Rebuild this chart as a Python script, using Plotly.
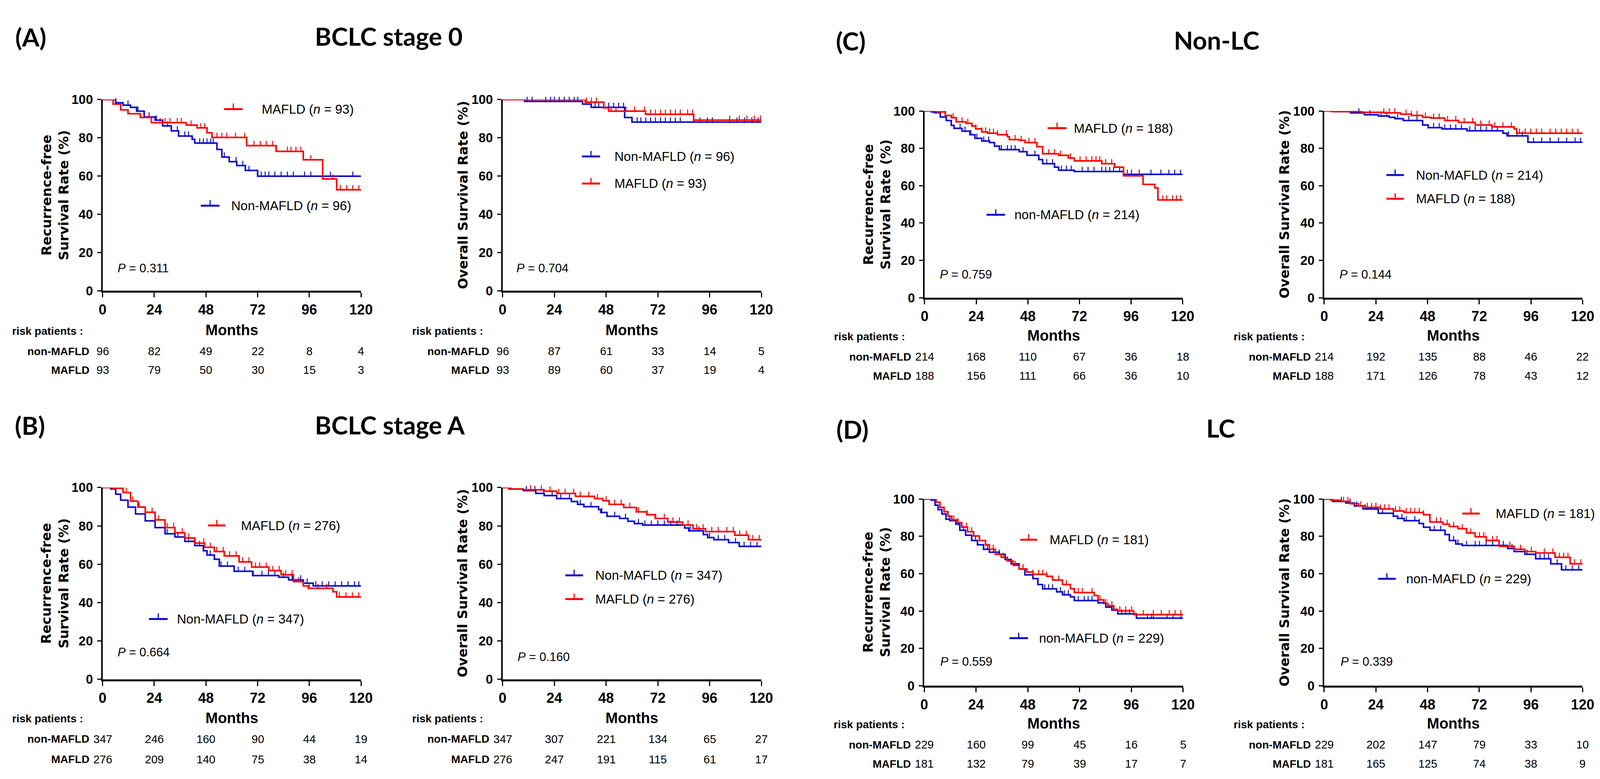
import numpy as np
import plotly.graph_objects as go

W, H = 4124, 1994
RED = "#FF0000"
BLUE = "#0C0CCC"
ARIAL = "Liberation Sans, Arial, sans-serif"
WIDEF = "DejaVu Sans, Liberation Sans, sans-serif"
TITLEF = "Lato, Open Sans, sans-serif"

MONTH_TICKS = [0, 24, 48, 72, 96, 120]
PCT_TICKS = [0, 20, 40, 60, 80, 100]
END_MONTH = 120

# ---------------- (A) BCLC stage 0 : RFS ----------------
A_RFS_MAFLD_T = [0, 4.9, 8.4, 11.8, 17.5, 22.7, 38.8, 43.9, 48.5, 50.8, 66.9, 80.6, 93.2, 102.2, 108.7]
A_RFS_MAFLD_S = [100, 97.6, 94.6, 92.6, 90.6, 87.9, 86.6, 85.2, 82.6, 80.2, 75.9, 72.9, 68.5, 58.5, 52.8]
A_RFS_MAFLD_C = [21.6, 26.7, 29.0, 31.3, 34.7, 36.5, 41.1, 45.6, 47.4, 53.1, 55.4, 57.7, 61.7, 66.0, 70.3,
                 73.2, 76.0, 78.9, 85.8, 87.5, 89.8, 92.1, 96.7, 107.0, 110.4, 113.3, 116.2, 119.0]
A_RFS_NON_T = [0, 6.1, 9.5, 13.0, 15.8, 19.3, 24.4, 27.9, 31.9, 35.3, 41.6, 42.8, 53.1, 55.4, 58.8, 62.3, 66.3, 72.0]
A_RFS_NON_S = [100, 98.3, 97.0, 95.9, 93.9, 90.9, 89.2, 86.2, 83.6, 80.9, 79.2, 77.2, 73.9, 69.9, 67.5, 65.5, 62.9, 59.9]
A_RFS_NON_C = [6.1, 11.8, 16.4, 21.6, 25.0, 30.2, 34.7, 38.2, 39.9, 45.1, 46.8, 48.5, 50.2, 51.4, 56.5, 62.0,
               65.1, 68.0, 73.7, 75.5, 77.2, 80.0, 82.9, 85.8, 88.6, 93.8, 96.7, 105.8, 116.2]

# ---------------- (A) BCLC stage 0 : OS ----------------
A_OS_MAFLD_T = [0, 38.3, 46.9, 49.2, 66.3, 88.6]
A_OS_MAFLD_S = [100, 98.6, 95.6, 93.9, 92.3, 89.2]
A_OS_MAFLD_C = [9.7, 13.1, 20.6, 22.9, 25.2, 27.5, 29.7, 32.0, 34.3, 38.9, 41.2, 43.5, 50.3, 52.6, 57.2, 61.2,
                65.8, 68.6, 70.9, 73.2, 75.5, 77.8, 80.1, 82.4, 85.8, 88.1, 105.3, 109.8, 113.3, 116.7, 119.6]
A_OS_NON_T = [0, 10.2, 37.1, 41.1, 56.6, 60.0]
A_OS_NON_S = [100, 99.0, 97.6, 95.9, 90.6, 88.2]
A_OS_NON_C = [11.4, 13.7, 20.0, 22.3, 24.0, 26.3, 28.6, 30.9, 33.2, 34.9, 42.9, 44.6, 46.9, 49.2, 51.5, 53.8,
              56.1, 62.4, 64.1, 66.4, 68.6, 70.9, 73.2, 75.5, 77.8, 80.1, 82.4, 88.7, 91.5, 95.0, 97.3, 105.3,
              108.7, 112.2, 115.6, 118.5]

# ---------------- (B) BCLC stage A : RFS ----------------
B_RFS_MAFLD_T = [0, 4.9, 9.5, 13.0, 16.4, 19.8, 24.4, 29.0, 33.6, 38.2, 42.8, 47.4, 51.9, 56.5, 63.4, 69.2,
                 77.2, 82.9, 88.6, 93.2, 95.5, 107.0, 108.7]
B_RFS_MAFLD_S = [100, 99.6, 97.4, 92.9, 89.8, 87.1, 83.1, 79.1, 76.4, 73.7, 71.0, 68.8, 66.6, 64.3, 61.2, 58.5,
                 56.7, 54.5, 50.9, 48.7, 47.4, 45.6, 42.9]
B_RFS_MAFLD_C = [5, 8, 11, 14, 17, 20, 23, 26, 30, 33, 37, 40, 43, 47, 50, 53, 56, 59, 62, 65, 68, 71, 73, 76,
                 79, 82, 85, 88, 91, 96, 100, 104, 110, 113, 116, 119]
B_RFS_NON_T = [0, 3.8, 6.1, 8.4, 11.8, 15.3, 19.8, 24.4, 29.0, 33.6, 38.2, 42.8, 46.8, 48.5, 51.9, 54.2, 61.1,
               69.7, 81.8, 86.4, 93.2, 97.8]
B_RFS_NON_S = [100, 99.2, 96.5, 93.4, 89.8, 86.2, 82.6, 79.1, 75.9, 74.2, 71.9, 69.7, 67.0, 64.8, 62.6, 59.0,
               56.3, 54.1, 53.2, 51.8, 50.1, 48.7]
B_RFS_NON_C = [30, 35, 40, 45, 50, 55, 58, 63, 66, 70, 74, 77, 80, 84, 88, 92, 95, 99, 102, 105, 108, 111, 114,
               117, 119]

# ---------------- (B) BCLC stage A : OS ----------------
B_OS_MAFLD_T = [0, 2.8, 9.6, 19.3, 25.1, 33.8, 42.6, 46.5, 49.4, 56.2, 62.0, 66.9, 70.8, 76.6, 83.4, 88.3,
                94.1, 107.7, 114.0]
B_OS_MAFLD_S = [100, 99.2, 98.8, 98.1, 96.9, 95.4, 94.2, 93.1, 91.2, 89.6, 87.3, 85.8, 83.9, 82.0, 80.4, 78.5,
                77.0, 75.1, 72.8]
B_OS_MAFLD_C = [4, 8, 13, 18, 22, 26, 29, 33, 36, 40, 44, 48, 52, 55, 59, 63, 67, 71, 75, 79, 82, 86, 90, 93,
                97, 100, 104, 107, 110, 113, 116, 119]
B_OS_NON_T = [0, 3.7, 9.6, 15.4, 19.3, 25.1, 31.9, 34.8, 37.7, 44.5, 45.5, 48.4, 54.3, 58.1, 61.1, 65.0, 84.4,
              86.3, 93.1, 95.1, 98.0, 104.8, 109.7]
B_OS_NON_S = [100, 99.2, 98.4, 96.9, 95.8, 94.2, 92.7, 91.2, 90.0, 88.5, 87.0, 85.0, 83.9, 82.4, 81.2, 80.4,
              78.9, 77.4, 75.5, 73.9, 72.8, 71.3, 69.3]
B_OS_NON_C = [3, 7, 11, 15, 19, 23, 27, 31, 36, 41, 46, 52, 57, 63, 66, 69, 72, 75, 78, 81, 87, 91, 96, 100,
              103, 108, 112, 115, 118]

# ---------------- (C) Non-LC : RFS ----------------
C_RFS_MAFLD_T = [0, 5.5, 9.6, 12.4, 14.7, 19.2, 22.0, 23.8, 26.6, 29.3, 33.9, 38.5, 39.4, 44.0, 46.7, 52.2,
                 54.9, 62.3, 66.8, 69.6, 82.4, 88.4, 92.5, 101.6, 107.1, 108.5]
C_RFS_MAFLD_S = [100, 99.5, 97.6, 96.4, 94.2, 93.4, 91.9, 90.4, 88.8, 88.1, 87.3, 86.2, 84.7, 84.3, 83.1, 80.9,
                 77.1, 76.3, 74.8, 73.3, 71.8, 69.9, 65.3, 60.7, 58.8, 52.4]
C_RFS_MAFLD_C = [6.9, 9.6, 13.3, 17.4, 20.1, 23.8, 26.6, 28.4, 30.2, 32.0, 33.9, 38.0, 42.1, 44.9, 48.5, 51.3,
                 57.7, 60.4, 63.2, 67.8, 72.3, 75.1, 77.8, 79.7, 81.5, 84.2, 87.0, 94.3, 99.8, 110.8, 112.6,
                 115.4, 117.2, 119.0]
C_RFS_NON_T = [0, 3.2, 4.6, 7.3, 10.1, 12.4, 13.7, 17.4, 21.1, 23.4, 26.6, 30.2, 32.5, 34.8, 44.0, 47.6, 53.1,
               54.9, 60.4, 62.3, 69.6, 92.5]
C_RFS_NON_S = [100, 99.5, 99.1, 96.8, 94.9, 92.3, 90.7, 89.2, 87.3, 85.4, 83.9, 83.1, 81.2, 79.3, 78.2, 76.3,
               74.0, 71.8, 69.9, 68.3, 67.6, 66.1]
C_RFS_NON_C = [3.7, 16.5, 18.8, 21.5, 24.3, 27.5, 29.8, 35.7, 38.5, 40.3, 42.1, 45.8, 51.3, 56.8, 59.5, 63.6,
               65.9, 68.2, 73.3, 76.0, 78.8, 82.4, 84.2, 86.1, 87.9, 90.7, 94.3, 96.2, 99.8, 105.3, 109.9,
               113.6, 116.3, 119.0]

# ---------------- (C) Non-LC : OS ----------------
C_OS_MAFLD_T = [0, 3.2, 17.4, 27.7, 35.4, 40.5, 45.7, 49.5, 56.0, 62.4, 70.1, 77.9, 88.2, 89.4]
C_OS_MAFLD_S = [100, 99.7, 99.3, 99.0, 98.3, 97.6, 96.6, 96.2, 94.9, 93.9, 92.5, 91.5, 90.4, 88.1]
C_OS_MAFLD_C = [4.5, 9.7, 12.2, 14.8, 17.4, 22.5, 25.1, 27.7, 30.2, 32.8, 38.0, 40.5, 43.1, 47.0, 50.8, 53.4,
                57.3, 61.1, 65.0, 68.9, 72.7, 76.6, 79.2, 83.0, 86.9, 90.7, 93.3, 95.9, 98.5, 101.0, 104.9,
                107.5, 110.1, 112.6, 115.2, 117.8]
C_OS_NON_T = [0, 4.5, 12.2, 18.7, 25.1, 30.2, 32.8, 36.7, 45.7, 48.3, 54.7, 66.3, 83.0, 84.9, 94.6]
C_OS_NON_S = [100, 99.7, 99.0, 98.0, 97.3, 96.6, 95.9, 94.9, 92.5, 91.1, 90.4, 89.4, 88.1, 86.7, 83.3]
C_OS_NON_C = [3.2, 7.1, 10.9, 16.1, 21.2, 26.4, 29.0, 34.1, 39.3, 43.1, 50.8, 53.4, 56.0, 58.6, 61.1, 63.7,
              67.6, 70.1, 72.7, 75.3, 77.9, 80.4, 85.6, 89.5, 92.0, 97.2, 101.0, 104.9, 108.8, 112.6, 116.5,
              119.0]

# ---------------- (D) LC : RFS ----------------
D_RFS_MAFLD_T = [0, 5.5, 7.3, 9.2, 11.0, 12.8, 15.6, 17.4, 20.1, 22.9, 25.6, 28.4, 30.2, 33.0, 35.7, 38.5,
                 41.2, 44.0, 47.6, 50.4, 56.8, 59.5, 64.1, 67.8, 69.6, 78.8, 80.6, 83.3, 85.2, 87.9, 89.7, 97.1]
D_RFS_MAFLD_S = [100, 98.3, 95.5, 93.2, 90.8, 88.8, 87.3, 84.9, 82.5, 80.2, 77.8, 75.5, 73.1, 70.4, 68.8, 66.8,
                 64.5, 62.5, 60.9, 59.7, 58.6, 56.6, 54.2, 51.9, 49.9, 48.3, 46.0, 44.0, 42.8, 40.9, 40.1, 38.1]
D_RFS_MAFLD_C = [3.7, 13.7, 15.6, 19.7, 22.0, 30.2, 32.0, 36.6, 42.1, 45.8, 50.4, 53.1, 54.9, 56.8, 62.3, 65.9,
                 69.6, 71.4, 73.3, 77.8, 81.5, 84.2, 87.0, 90.7, 93.4, 96.2, 101.6, 106.2, 109.9, 113.6, 116.3,
                 119.0]
D_RFS_NON_T = [0, 3.2, 5.0, 6.4, 8.2, 10.1, 11.9, 14.7, 16.5, 19.2, 22.0, 24.7, 27.5, 30.2, 34.8, 37.5, 40.3,
               44.0, 46.7, 50.4, 52.7, 54.9, 61.4, 64.1, 67.8, 69.6, 80.6, 84.2, 87.0, 89.7, 98.4]
D_RFS_NON_S = [100, 99.4, 96.7, 94.3, 92.0, 89.2, 88.4, 86.5, 83.3, 80.6, 77.8, 75.5, 73.1, 71.5, 70.4, 67.6,
               65.3, 62.5, 59.4, 57.4, 54.2, 51.9, 50.3, 48.7, 47.6, 45.6, 44.4, 42.1, 40.5, 38.5, 36.2]
D_RFS_NON_C = [3.2, 11.9, 14.7, 18.3, 23.8, 27.5, 29.3, 32.1, 34.8, 44.0, 45.8, 55.9, 57.7, 59.5, 63.2, 65.0,
               66.8, 71.4, 74.2, 76.0, 77.8, 80.6, 91.6, 93.4, 95.2, 103.5, 105.3, 106.2, 112.6, 115.4, 119.0]

# ---------------- (D) LC : OS ----------------
D_OS_MAFLD_T = [0, 3.0, 8.0, 12.0, 16.0, 19.0, 26.1, 32.1, 37.1, 46.1, 49.1, 55.1, 58.1, 62.1, 66.1, 70.1, 75.2,
                81.2, 88.2, 93.2, 98.2, 107.2, 114.2]
D_OS_MAFLD_S = [100, 99.4, 98.7, 97.5, 96.3, 95.5, 94.7, 93.6, 92.8, 91.6, 87.7, 86.5, 85.3, 84.1, 81.8, 79.8,
                77.8, 74.7, 73.1, 71.9, 71.1, 68.8, 65.3]
D_OS_MAFLD_C = [4.0, 9.0, 11.0, 17.0, 20.0, 22.0, 24.0, 26.1, 28.1, 30.1, 33.1, 35.1, 38.1, 40.1, 42.1, 44.1,
                46.1, 52.1, 54.1, 57.1, 60.1, 64.1, 68.1, 72.1, 74.1, 78.2, 80.2, 86.2, 91.2, 96.2, 102.2, 106.2,
                109.2, 111.2, 113.2, 116.2, 119.2]
D_OS_NON_T = [0, 4.0, 10.0, 14.0, 18.0, 25.1, 32.1, 34.1, 37.1, 44.1, 46.1, 49.1, 56.1, 58.1, 61.1, 64.1, 85.2,
              88.2, 93.2, 98.2, 105.2, 110.2]
D_OS_NON_S = [100, 98.7, 97.9, 96.3, 94.7, 92.4, 90.8, 89.6, 88.4, 86.9, 84.9, 83.3, 81.0, 77.8, 75.9, 75.1,
              73.5, 71.9, 70.4, 68.0, 65.3, 62.1]
D_OS_NON_C = [3.0, 8.0, 12.0, 15.0, 19.0, 22.0, 27.1, 32.1, 36.1, 38.1, 42.1, 44.1, 51.1, 54.1, 60.1, 62.1,
              66.1, 70.1, 72.1, 75.2, 78.2, 81.2, 83.2, 87.2, 94.2, 100.2, 102.2, 104.2, 108.2, 112.2, 115.2,
              118.2]

# ---------------- numbers at risk ----------------
A_RFS_RISK_NON = [96, 82, 49, 22, 8, 4]
A_RFS_RISK_MAFLD = [93, 79, 50, 30, 15, 3]
A_OS_RISK_NON = [96, 87, 61, 33, 14, 5]
A_OS_RISK_MAFLD = [93, 89, 60, 37, 19, 4]
B_RFS_RISK_NON = [347, 246, 160, 90, 44, 19]
B_RFS_RISK_MAFLD = [276, 209, 140, 75, 38, 14]
B_OS_RISK_NON = [347, 307, 221, 134, 65, 27]
B_OS_RISK_MAFLD = [276, 247, 191, 115, 61, 17]
C_RFS_RISK_NON = [214, 168, 110, 67, 36, 18]
C_RFS_RISK_MAFLD = [188, 156, 111, 66, 36, 10]
C_OS_RISK_NON = [214, 192, 135, 88, 46, 22]
C_OS_RISK_MAFLD = [188, 171, 126, 78, 43, 12]
D_RFS_RISK_NON = [229, 160, 99, 45, 16, 5]
D_RFS_RISK_MAFLD = [181, 132, 79, 39, 17, 7]
D_OS_RISK_NON = [229, 202, 147, 79, 33, 10]
D_OS_RISK_MAFLD = [181, 165, 125, 74, 38, 9]

P_VALUES = ["0.311", "0.704", "0.664", "0.160", "0.759", "0.144", "0.559", "0.339"]

RFS_TITLE = "Recurrence-free<br>Survival Rate (%)"
OS_TITLE = "Overall Survival Rate (%)"

# ---------------- panel layout spec (pixels / legend placement) ----------------
PANELS = [
    dict(box=(247, 915, 233, 732), ytitle=RFS_TITLE,
         m=(A_RFS_MAFLD_T, A_RFS_MAFLD_S, A_RFS_MAFLD_C), n=(A_RFS_NON_T, A_RFS_NON_S, A_RFS_NON_C),
         rn=A_RFS_RISK_NON, rm=A_RFS_RISK_MAFLD,
         lm=("MAFLD (<i>n</i> = 93)", 56.4, 65.0, 95.0, 73.6),
         ln=("Non-MAFLD (<i>n</i> = 96)", 45.6, 54.3, 44.5, 59.3),
         p=(6.6, 11.8), rows=(-155, -203)),
    dict(box=(1281, 1950, 233, 732), ytitle=OS_TITLE,
         m=(A_OS_MAFLD_T, A_OS_MAFLD_S, A_OS_MAFLD_C), n=(A_OS_NON_T, A_OS_NON_S, A_OS_NON_C),
         rn=A_OS_RISK_NON, rm=A_OS_RISK_MAFLD,
         lm=("MAFLD (<i>n</i> = 93)", 36.8, 45.2, 56.1, 51.5),
         ln=("Non-MAFLD (<i>n</i> = 96)", 36.8, 45.2, 70.2, 51.5),
         p=(6.1, 11.8), rows=(-155, -203)),
    dict(box=(247, 915, 1245, 1745), ytitle=RFS_TITLE,
         m=(B_RFS_MAFLD_T, B_RFS_MAFLD_S, B_RFS_MAFLD_C), n=(B_RFS_NON_T, B_RFS_NON_S, B_RFS_NON_C),
         rn=B_RFS_RISK_NON, rm=B_RFS_RISK_MAFLD,
         lm=("MAFLD (<i>n</i> = 276)", 49.0, 57.1, 80.2, 64.0),
         ln=("Non-MAFLD (<i>n</i> = 347)", 21.5, 30.2, 31.4, 34.2),
         p=(6.6, 14.0), rows=(-153, -205)),
    dict(box=(1281, 1950, 1245, 1745), ytitle=OS_TITLE,
         m=(B_OS_MAFLD_T, B_OS_MAFLD_S, B_OS_MAFLD_C), n=(B_OS_NON_T, B_OS_NON_S, B_OS_NON_C),
         rn=B_OS_RISK_NON, rm=B_OS_RISK_MAFLD,
         lm=("MAFLD (<i>n</i> = 276)", 29.1, 37.3, 41.8, 42.7),
         ln=("Non-MAFLD (<i>n</i> = 347)", 29.1, 37.3, 54.2, 42.7),
         p=(6.6, 11.6), rows=(-153, -205)),
    dict(box=(2372, 3039, 263, 750), ytitle=RFS_TITLE,
         m=(C_RFS_MAFLD_T, C_RFS_MAFLD_S, C_RFS_MAFLD_C), n=(C_RFS_NON_T, C_RFS_NON_S, C_RFS_NON_C),
         rn=C_RFS_RISK_NON, rm=C_RFS_RISK_MAFLD,
         lm=("MAFLD (<i>n</i> = 188)", 57.2, 66.0, 90.8, 69.1),
         ln=("non-MAFLD (<i>n</i> = 214)", 28.8, 37.4, 44.4, 41.5),
         p=(6.8, 12.5), rows=(-151, -200)),
    dict(box=(3405, 4073, 263, 750), ytitle=OS_TITLE,
         m=(C_OS_MAFLD_T, C_OS_MAFLD_S, C_OS_MAFLD_C), n=(C_OS_NON_T, C_OS_NON_S, C_OS_NON_C),
         rn=C_OS_RISK_NON, rm=C_OS_RISK_MAFLD,
         lm=("MAFLD (<i>n</i> = 188)", 28.9, 37.0, 53.0, 42.2),
         ln=("Non-MAFLD (<i>n</i> = 214)", 28.9, 37.0, 65.7, 42.2),
         p=(6.8, 12.5), rows=(-151, -200)),
    dict(box=(2371, 3040, 1275, 1762), ytitle=RFS_TITLE,
         m=(D_RFS_MAFLD_T, D_RFS_MAFLD_S, D_RFS_MAFLD_C), n=(D_RFS_NON_T, D_RFS_NON_S, D_RFS_NON_C),
         rn=D_RFS_RISK_NON, rm=D_RFS_RISK_MAFLD,
         lm=("MAFLD (<i>n</i> = 181)", 44.5, 52.3, 78.2, 57.8),
         ln=("non-MAFLD (<i>n</i> = 229)", 39.5, 48.1, 25.5, 52.8),
         p=(7.0, 12.9), rows=(-151, -200)),
    dict(box=(3405, 4073, 1275, 1762), ytitle=OS_TITLE,
         m=(D_OS_MAFLD_T, D_OS_MAFLD_S, D_OS_MAFLD_C), n=(D_OS_NON_T, D_OS_NON_S, D_OS_NON_C),
         rn=D_OS_RISK_NON, rm=D_OS_RISK_MAFLD,
         lm=("MAFLD (<i>n</i> = 181)", 64.1, 72.2, 92.2, 79.2),
         ln=("non-MAFLD (<i>n</i> = 229)", 25.0, 33.2, 57.3, 37.7),
         p=(7.2, 12.9), rows=(-151, -200)),
]

HEADERS = [("(A)", 62, 70), ("BCLC stage 0", 987, 68), ("(B)", 59, 1083), ("BCLC stage A", 990, 1082),
           ("(C)", 2181, 80), ("Non-LC", 3127, 78), ("(D)", 2186, 1093), ("LC", 3137, 1090)]

fig = go.Figure()
annotations = []


def surv_at(t, s, c):
    idx = np.searchsorted(np.asarray(t), np.asarray(c), side="right") - 1
    return np.asarray(s)[idx]


for i, P in enumerate(PANELS, start=1):
    xa, ya = f"x{i}", f"y{i}"
    x0, x1, top, bot = P["box"]
    fig.layout[f"xaxis{i}"] = dict(
        domain=[x0 / W, x1 / W], range=[0, 120], anchor=ya, tickvals=MONTH_TICKS,
        showline=True, linecolor="black", linewidth=5, ticks="outside", ticklen=12, tickwidth=3,
        tickcolor="black", showgrid=False, zeroline=False, ticklabelstandoff=0,
        tickfont=dict(family=ARIAL, size=36, color="black", weight="bold"))
    fig.layout[f"yaxis{i}"] = dict(
        domain=[1 - bot / H, 1 - top / H], range=[0, 100], anchor=xa, tickvals=PCT_TICKS,
        showline=True, linecolor="black", linewidth=4, ticks="outside", ticklen=10, tickwidth=3,
        tickcolor="black", showgrid=False, zeroline=False, ticklabelstandoff=4,
        tickfont=dict(family=ARIAL, size=33, color="black", weight="bold"))

    for key, col in (("n", BLUE), ("m", RED)):
        t, s, c = P[key]
        fig.add_trace(go.Scatter(
            x=list(t) + [END_MONTH], y=list(s) + [s[-1]], mode="lines", xaxis=xa, yaxis=ya,
            line=dict(color=col, width=4, shape="hv"), cliponaxis=False, showlegend=False,
            hoverinfo="skip"))
        fig.add_trace(go.Scatter(
            x=c, y=surv_at(t, s, c) + 1.0, mode="markers", xaxis=xa, yaxis=ya, cliponaxis=False,
            marker=dict(symbol="line-ns", size=10, line=dict(color=col, width=2.5)),
            showlegend=False, hoverinfo="skip"))

    # legends
    for key, col in (("ln", BLUE), ("lm", RED)):
        label, lx0, lx1, ly, tx = P[key]
        fig.add_trace(go.Scatter(
            x=[lx0, lx1], y=[ly, ly], mode="lines", xaxis=xa, yaxis=ya, cliponaxis=False,
            line=dict(color=col, width=5), showlegend=False, hoverinfo="skip"))
        fig.add_trace(go.Scatter(
            x=[(lx0 + lx1) / 2], y=[ly + 1.2], mode="markers", xaxis=xa, yaxis=ya, cliponaxis=False,
            marker=dict(symbol="line-ns", size=12, line=dict(color=col, width=3)),
            showlegend=False, hoverinfo="skip"))
        annotations.append(dict(x=tx, y=ly, xref=xa, yref=ya, text=label, showarrow=False,
                                xanchor="left", yanchor="middle",
                                font=dict(family=ARIAL, size=33, color="black")))

    # P value
    px_, py_ = P["p"]
    annotations.append(dict(x=px_, y=py_, xref=xa, yref=ya, text=f"<i>P</i> = {P_VALUES[i - 1]}",
                            showarrow=False, xanchor="left", yanchor="middle",
                            font=dict(family=ARIAL, size=31, color="black")))

    # y-axis title
    two = "<br>" in P["ytitle"]
    annotations.append(dict(x=0, y=50, xref=xa, yref=ya, text=P["ytitle"], showarrow=False,
                            textangle=-90, xanchor="center", yanchor="middle",
                            xshift=-122 if two else -102,
                            font=dict(family=WIDEF, size=34, color="black", weight="bold")))

    # Months + risk table
    r1, r2 = P["rows"]
    annotations.append(dict(x=60, y=0, xref=xa, yref=ya, text="Months", showarrow=False,
                            xanchor="center", yanchor="middle", yshift=r1 + 54,
                            font=dict(family=ARIAL, size=38, color="black", weight="bold")))
    annotations.append(dict(x=0, y=0, xref=xa, yref=ya, text="risk patients :", showarrow=False,
                            xanchor="left", yanchor="middle", yshift=r1 + 52, xshift=-234,
                            font=dict(family=ARIAL, size=28, color="black", weight="bold")))
    for lab, vals, ys in (("non-MAFLD", P["rn"], r1), ("MAFLD", P["rm"], r2)):
        annotations.append(dict(x=0, y=0, xref=xa, yref=ya, text=lab, showarrow=False,
                                xanchor="right", yanchor="middle", yshift=ys, xshift=-32,
                                font=dict(family=ARIAL, size=28, color="black", weight="bold")))
        for m, v in zip(MONTH_TICKS, vals):
            annotations.append(dict(x=m, y=0, xref=xa, yref=ya, text=str(v), showarrow=False,
                                    xanchor="center", yanchor="middle", yshift=ys,
                                    font=dict(family=ARIAL, size=29, color="black")))

for txt, hx, hy in HEADERS:
    annotations.append(dict(x=hx / W, y=1 - hy / H, xref="paper", yref="paper", text=txt,
                            showarrow=False, xanchor="center", yanchor="middle",
                            font=dict(family=TITLEF, size=64, color="black", weight="bold")))

fig.update_layout(width=W, height=H, margin=dict(l=0, r=0, t=0, b=0), paper_bgcolor="white",
                  plot_bgcolor="white", annotations=annotations, showlegend=False)

fig.write_html("out.html")
